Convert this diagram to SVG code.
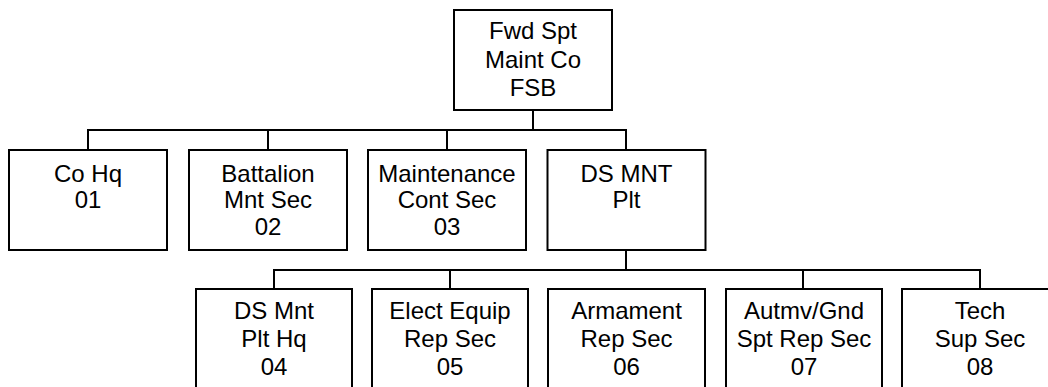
<svg xmlns="http://www.w3.org/2000/svg" width="1048" height="387" viewBox="0 0 1048 387">
<style>
.box{fill:#fff;stroke:#000;stroke-width:2}
.ln{fill:none;stroke:#000;stroke-width:2}
text{font-family:"Liberation Sans",Arial,sans-serif;font-size:24px;fill:#000;text-anchor:middle}
</style>
<rect width="1048" height="387" fill="#fff"/>
<g id="connectors">
<path class="ln" d="M533 110V130M88 150V130H626V150M268 130V150M447 130V150M626 250V270M274 289V270H980V289M450 270V289M803 270V289"/>
</g>
<g id="n0"><rect class="box" x="454" y="10" width="158" height="100"/><text x="533" y="39">Fwd Spt</text><text x="533" y="67.5">Maint Co</text><text x="533" y="96">FSB</text></g>
<g id="n1"><rect class="box" x="9" y="150" width="158" height="100"/><text x="88" y="181.5">Co Hq</text><text x="88" y="208">01</text></g>
<g id="n2"><rect class="box" x="189" y="150" width="158" height="100"/><text x="268" y="181.5">Battalion</text><text x="268" y="208">Mnt Sec</text><text x="268" y="235">02</text></g>
<g id="n3"><rect class="box" x="368" y="150" width="158" height="100"/><text x="447" y="181.5">Maintenance</text><text x="447" y="208">Cont Sec</text><text x="447" y="235">03</text></g>
<g id="n4"><rect class="box" x="547.5" y="150" width="158" height="100"/><text x="626.5" y="181.5">DS MNT</text><text x="626.5" y="208">Plt</text></g>
<g id="n5"><rect class="box" x="196" y="289" width="156" height="110"/><text x="274" y="319">DS Mnt</text><text x="274" y="347">Plt Hq</text><text x="274" y="375">04</text></g>
<g id="n6"><rect class="box" x="372" y="289" width="156" height="110"/><text x="450" y="319">Elect Equip</text><text x="450" y="347">Rep Sec</text><text x="450" y="375">05</text></g>
<g id="n7"><rect class="box" x="548" y="289" width="157" height="110"/><text x="626.5" y="319">Armament</text><text x="626.5" y="347">Rep Sec</text><text x="626.5" y="375">06</text></g>
<g id="n8"><rect class="box" x="726" y="289" width="156" height="110"/><text x="804" y="319">Autmv/Gnd</text><text x="804" y="347">Spt Rep Sec</text><text x="804" y="375">07</text></g>
<g id="n9"><rect class="box" x="902" y="289" width="156" height="110"/><text x="980" y="319">Tech</text><text x="980" y="347">Sup Sec</text><text x="980" y="375">08</text></g>
</svg>
